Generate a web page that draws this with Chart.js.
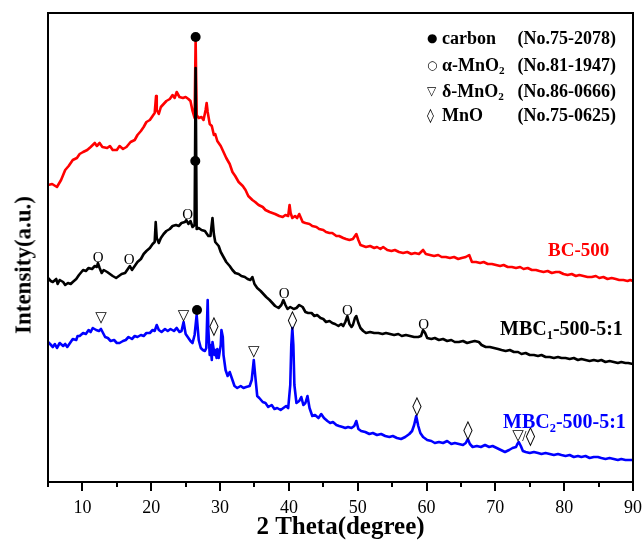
<!DOCTYPE html>
<html><head><meta charset="utf-8">
<script src="https://cdn.jsdelivr.net/npm/chart.js@4/dist/chart.umd.min.js"></script>
<style>
body{margin:0;background:#fff}
#wrap{position:relative;width:644px;height:540px;overflow:hidden}
canvas{position:absolute;left:0;top:0}
.t{position:absolute;font-family:'Liberation Serif','Times New Roman',serif;font-weight:bold;white-space:pre;line-height:1;color:#000}
.t sub{font-size:0.62em;vertical-align:-0.3em;line-height:0}
.leg{font-size:18px;left:427px;width:189px;height:18px}
.sym{position:absolute;left:0;font-family:'DejaVu Sans',sans-serif;font-weight:normal}
.txt{position:absolute;left:15px}
.no{position:absolute;right:0}
</style>
</head><body>
<div id="wrap">
<canvas id="c" width="644" height="540"></canvas>
<div class="t leg" style="top:29px"><span class="sym" style="font-size:12px;top:3px">●</span><span class="txt">carbon</span><span class="no">(No.75-2078)</span></div>
<div class="t leg" style="top:56px"><span class="sym" style="font-size:12px;top:3px">○</span><span class="txt">α-MnO<sub>2</sub></span><span class="no">(No.81-1947)</span></div>
<div class="t leg" style="top:82px"><span class="sym" style="font-size:12px;top:3px">▽</span><span class="txt">δ-MnO<sub>2</sub></span><span class="no">(No.86-0666)</span></div>
<div class="t leg" style="top:106px"><span class="sym" style="font-size:14px;top:2px">◊</span><span class="txt">MnO</span><span class="no">(No.75-0625)</span></div>
<div class="t" style="left:548px;top:240px;font-size:19px;color:#ff0000">BC-500</div>
<div class="t" style="left:500px;top:318px;font-size:20px;color:#000">MBC<sub>1</sub>-500-5:1</div>
<div class="t" style="left:503px;top:411px;font-size:20px;color:#0000ff">MBC<sub>2</sub>-500-5:1</div>
<div class="t" style="left:23px;top:265px;font-size:23px;transform:translate(-50%,-50%) rotate(-90deg)">Intensity(a.u.)</div>
</div>
<script>
// x tick labels (2θ, degree)
const xMajorTicks = [10,20,30,40,50,60,70,80,90];
const xMinorTicks = [5,15,25,35,45,55,65,75,85];

// BC-500 (red)  [2θ, intensity a.u.]
const bc500 = [[5.0,297],[5.6,298],[6.3,295],[6.9,302],[7.5,312],[8.0,316],[8.6,322],[9.2,324],[9.6,328],[10.1,330],[10.7,332],[11.2,335],[11.8,339],[12.1,336],[12.5,339],[12.9,335],[13.6,334],[14.0,336],[14.4,332],[15.0,332],[15.4,336],[15.9,333],[16.4,335],[17.0,340],[17.6,342],[18.0,347],[18.5,351],[18.9,355],[19.3,360],[19.8,362],[20.2,366],[20.5,369],[20.7,386],[20.8,372],[21.1,368],[21.4,375],[21.8,378],[22.2,381],[22.7,383],[23.1,387],[23.4,384],[23.7,390],[24.1,385],[24.6,384],[25.0,385],[25.4,383],[25.7,381],[26.0,371],[26.3,364],[26.45,442],[26.6,367],[26.9,364],[27.3,365],[27.6,362],[27.9,372],[28.05,379],[28.2,370],[28.5,358],[28.8,356],[29.1,347],[29.3,348],[29.6,341],[30.1,336],[30.5,330],[30.9,324],[31.4,318],[31.8,310],[32.2,306],[32.7,300],[33.3,296],[33.7,292],[34.1,286],[34.7,282],[35.1,280],[35.6,277],[36.2,275],[36.6,272],[37.2,270],[37.6,269],[38.0,268],[38.6,266],[39.1,265],[39.5,267],[39.9,266],[40.1,277],[40.25,269],[40.5,264],[40.9,266],[41.2,264],[41.5,268],[42.0,260],[42.4,259],[43.0,258],[43.4,256],[44.0,255],[44.4,253],[45.0,252],[45.4,250],[45.9,249],[46.3,249],[46.9,246],[47.3,246],[47.9,244],[48.3,243],[48.8,242],[49.3,243],[49.8,248],[50.1,242],[50.4,237],[50.8,236],[51.2,235],[51.8,236],[52.4,234],[52.8,235],[53.3,233],[53.7,235],[54.3,232],[54.9,231],[55.4,232],[56.0,230],[56.6,229],[57.2,230],[57.8,228],[58.3,229],[58.9,228],[59.5,232],[59.9,228],[60.5,227],[61.1,226],[61.7,227],[62.2,225],[62.8,225],[63.4,224],[64.0,225],[64.6,223],[65.1,224],[65.7,225],[66.2,227],[66.6,220],[67.2,220],[67.8,219],[68.3,220],[68.9,218],[69.5,218],[70.1,217],[70.7,216],[71.2,217],[71.8,215],[72.4,215],[73.0,214],[73.6,215],[74.1,213],[74.7,214],[75.3,212],[75.9,212],[76.4,211],[77.0,210],[77.6,211],[78.2,209],[78.8,210],[79.3,210],[79.9,208],[80.5,207],[81.1,208],[81.7,206],[82.2,207],[82.8,206],[83.4,205],[84.0,205],[84.6,206],[85.1,204],[85.7,205],[86.3,203],[86.9,204],[87.5,203],[88.0,202],[88.6,202],[89.2,201],[89.6,202],[90,201]];

// MBC1-500-5:1 (black)
const mbc1 = [[5.0,204],[5.4,201],[5.7,200],[6.2,203],[6.4,198],[6.7,202],[7.2,200],[7.5,197],[7.9,199],[8.3,198],[8.6,200],[9.1,203],[9.5,207],[10.1,212],[10.5,211],[10.9,214],[11.4,213],[11.8,216],[12.1,215],[12.25,219],[12.5,214],[12.8,209],[13.1,212],[13.6,210],[14.0,208],[14.4,206],[14.9,204],[15.3,206],[15.7,208],[16.2,209],[16.6,213],[16.9,216],[17.2,212],[17.6,216],[18.0,220],[18.5,223],[18.9,228],[19.3,231],[19.8,234],[20.2,238],[20.5,240],[20.65,260],[20.8,244],[21.1,239],[21.4,244],[21.8,248],[22.2,251],[22.7,253],[23.1,256],[23.6,257],[24.0,256],[24.4,259],[24.9,260],[25.1,262],[25.4,258],[25.7,261],[26.0,255],[26.3,257],[26.45,414],[26.6,253],[26.9,254],[27.3,252],[27.8,251],[28.0,249],[28.3,246],[28.6,246],[28.9,264],[29.1,248],[29.3,240],[29.8,236],[30.1,230],[30.5,225],[30.9,220],[31.4,216],[31.8,212],[32.2,209],[32.7,208],[33.1,206],[33.6,205],[34.0,203],[34.4,202],[34.7,205],[35.0,198],[35.4,194],[35.9,191],[36.3,188],[36.7,185],[37.2,182],[37.6,179],[38.0,176],[38.5,174],[38.9,177],[39.2,182],[39.5,177],[39.8,173],[40.2,175],[40.7,173],[41.1,174],[41.5,177],[42.0,175],[42.4,170],[42.8,169],[43.3,169],[43.7,166],[44.1,167],[44.6,164],[45.0,163],[45.4,160],[45.9,161],[46.3,159],[46.7,158],[47.2,156],[47.6,158],[47.9,156],[48.2,160],[48.5,166],[48.8,158],[49.1,155],[49.3,157],[49.6,164],[49.8,166],[50.1,159],[50.4,154],[50.8,151],[51.2,149],[51.8,150],[52.4,149],[53.0,149],[53.6,148],[54.1,149],[54.7,148],[55.3,147],[55.9,148],[56.4,146],[57.0,147],[57.6,146],[58.2,145],[58.8,145],[59.2,146],[59.5,152],[59.8,149],[60.1,144],[60.7,143],[61.2,144],[61.8,142],[62.4,143],[63.0,141],[63.6,142],[64.1,140],[64.7,140],[65.3,141],[65.9,139],[66.4,140],[67.0,141],[67.6,140],[68.0,137],[68.6,135],[69.2,135],[69.8,134],[70.4,133],[70.9,132],[71.5,131],[72.1,132],[72.7,130],[73.3,130],[73.8,128],[74.4,129],[75.0,127],[75.6,127],[76.2,126],[76.7,127],[77.3,125],[77.9,125],[78.5,124],[79.1,125],[79.6,124],[80.2,124],[80.8,123],[81.4,124],[82.0,122],[82.5,123],[83.1,122],[83.7,121],[84.3,122],[84.9,121],[85.4,122],[86.0,120],[86.6,121],[87.2,120],[87.8,119],[88.3,120],[88.9,119],[89.3,119],[90,118]];

// MBC2-500-5:1 (blue)
const mbc2 = [[5.0,140],[5.3,138],[5.7,135],[6.0,138],[6.3,134],[6.7,139],[7.2,136],[7.5,138],[7.8,135],[8.2,139],[8.6,143],[9.1,142],[9.3,146],[9.6,146],[10.1,149],[10.5,148],[10.9,152],[11.2,150],[11.5,154],[12.0,152],[12.4,151],[12.7,153],[13.0,149],[13.3,145],[13.7,144],[14.1,141],[14.6,142],[15.0,139],[15.4,139],[15.9,141],[16.3,142],[16.7,145],[17.2,143],[17.6,146],[18.0,145],[18.5,147],[18.9,146],[19.3,149],[19.8,149],[20.2,152],[20.5,151],[20.8,157],[21.1,152],[21.5,150],[22.0,153],[22.4,151],[22.8,153],[23.3,151],[23.7,154],[24.1,150],[24.4,151],[24.7,160],[25.0,148],[25.3,145],[25.7,141],[26.0,139],[26.3,147],[26.6,167],[26.9,142],[27.2,134],[27.5,132],[27.8,131],[28.0,134],[28.2,182],[28.3,152],[28.5,127],[28.6,137],[28.8,122],[28.9,140],[29.2,127],[29.3,132],[29.5,124],[29.6,133],[29.8,124],[30.1,137],[30.2,152],[30.4,145],[30.5,127],[30.8,112],[31.1,106],[31.4,110],[31.7,104],[32.1,96],[32.5,94],[33.0,96],[33.4,94],[33.8,95],[34.3,96],[34.6,102],[34.9,122],[35.1,107],[35.4,86],[35.7,84],[36.2,80],[36.6,79],[37.0,75],[37.5,77],[37.9,73],[38.3,74],[38.8,72],[39.2,74],[39.6,76],[39.9,74],[40.2,97],[40.35,137],[40.5,154],[40.65,137],[40.8,97],[41.1,79],[41.5,81],[41.8,85],[42.1,77],[42.4,79],[42.7,86],[43.0,74],[43.4,66],[43.8,67],[44.3,64],[44.7,68],[45.1,64],[45.6,61],[46.0,59],[46.4,60],[46.9,57],[47.3,56],[47.8,55],[48.2,54],[48.6,55],[49.1,54],[49.5,56],[49.8,61],[50.1,53],[50.5,51],[51.1,50],[51.7,48],[52.2,49],[52.8,47],[53.4,48],[54.0,46],[54.6,45],[55.1,46],[55.7,44],[56.3,43],[56.9,45],[57.5,48],[57.9,51],[58.2,57],[58.5,66],[58.8,56],[59.1,49],[59.5,45],[60.1,42],[60.7,41],[61.2,39],[61.8,40],[62.4,39],[63.0,41],[63.6,38],[64.1,39],[64.7,38],[65.3,37],[65.7,39],[66.0,43],[66.3,38],[66.7,35],[67.3,36],[67.9,35],[68.5,37],[69.1,35],[69.6,36],[70.2,34],[70.8,32],[71.4,30],[72.0,32],[72.5,34],[73.0,35],[73.2,38],[73.4,40],[73.7,36],[74.0,31],[74.4,30],[75.0,29],[75.6,30],[76.2,29],[76.7,28],[77.3,29],[77.9,28],[78.5,27],[79.1,28],[79.6,27],[80.2,26],[80.8,27],[81.4,25],[82.0,26],[82.5,25],[83.1,26],[83.7,24],[84.3,25],[84.9,25],[85.4,24],[86.0,23],[86.6,24],[87.2,23],[87.8,22],[88.3,23],[88.9,22],[89.3,22],[90,22]];

// phase markers [2θ, intensity]
const carbonMarks = [[26.45,445],[26.4,321],[26.65,172]];
const alphaMarks  = [[12.3,225],[16.8,223],[25.3,268],[39.3,189],[48.5,172],[59.6,158]];
const deltaMarks  = [[12.7,164],[24.7,166],[34.9,130],[73.3,46]];
const mnoMarks    = [[29.1,156],[40.5,162],[58.6,76],[66.0,52],[75.1,46]];
const slashMarks  = [[74.2,46]];

const FONT = "'Liberation Serif','Times New Roman',serif";
const toXY = a => a.map(([x,y]) => ({x, y}));

const deco = {
  id: 'deco',
  afterDatasetsDraw(chart) {
    const {ctx, scales: {x, y}} = chart;
    ctx.save();
    ctx.fillStyle = '#000';
    const drawSym = (pts, sym, font) => {
      ctx.font = font; ctx.textAlign = 'center'; ctx.textBaseline = 'alphabetic';
      const m = ctx.measureText(sym);
      const off = (m.actualBoundingBoxAscent - m.actualBoundingBoxDescent) / 2;
      pts.forEach(([a, b]) => ctx.fillText(sym, x.getPixelForValue(a), y.getPixelForValue(b) + off));
    };
    drawSym(alphaMarks, 'O', "15px 'Liberation Serif'");
    drawSym(deltaMarks, '▽', "15px 'DejaVu Sans'");
    drawSym(mnoMarks, '◊', "19px 'DejaVu Sans'");
    drawSym(slashMarks, '/', "15px 'Liberation Serif'");
    ctx.restore();
  },
  afterDraw(chart) {
    const {ctx, chartArea: ca, scales: {x}} = chart;
    ctx.save();
    ctx.strokeStyle = '#000';
    ctx.lineWidth = 2;
    ctx.strokeRect(ca.left, ca.top, ca.right - ca.left, ca.bottom - ca.top);
    ctx.beginPath();
    xMajorTicks.forEach(v => { const p = Math.round(x.getPixelForValue(v)); ctx.moveTo(p, ca.bottom); ctx.lineTo(p, ca.bottom + 9); });
    xMinorTicks.forEach(v => { const p = Math.round(x.getPixelForValue(v)); ctx.moveTo(p, ca.bottom); ctx.lineTo(p, ca.bottom + 5); });
    ctx.stroke();
    ctx.restore();
  }
};

const lineDs = (label, pts, color, order) => ({
  label, data: toXY(pts), borderColor: color, backgroundColor: color,
  borderWidth: 2.6, pointRadius: 0, tension: 0, fill: false,
  borderJoinStyle: 'round', borderCapStyle: 'round', order
});

new Chart(document.getElementById('c'), {
  type: 'line',
  data: {
    datasets: [
      { label: 'carbon', data: toXY(carbonMarks), showLine: false, pointRadius: 5,
        pointBackgroundColor: '#000', pointBorderColor: '#000', pointBorderWidth: 0, order: 0 },
      lineDs('MBC1-500-5:1', mbc1, '#000000', 1),
      lineDs('MBC2-500-5:1', mbc2, '#0000ff', 2),
      lineDs('BC-500', bc500, '#ff0000', 3)
    ]
  },
  options: {
    responsive: false, animation: false, devicePixelRatio: 1,
    layout: { padding: { top: 13, right: 11, left: 0, bottom: 0 } },
    plugins: { legend: { display: false }, tooltip: { enabled: false } },
    scales: {
      x: {
        type: 'linear', min: 5, max: 90,
        afterBuildTicks: s => { s.ticks = xMajorTicks.map(v => ({ value: v })); },
        ticks: { font: { family: FONT, size: 18 }, color: '#000', padding: 6, maxRotation: 0, autoSkip: false },
        grid: { display: true, drawOnChartArea: false, drawTicks: true, tickLength: 9, color: 'rgba(0,0,0,0)' },
        border: { display: false },
        title: { display: true, text: '2 Theta(degree)', color: '#000',
                 font: { family: FONT, size: 25, weight: 'bold' }, padding: { top: 0, bottom: -3 } },
        afterFit: s => { s.height = 58; s.paddingRight = 0; s.paddingLeft = 0; }
      },
      y: {
        min: 0, max: 469,
        ticks: { display: false },
        grid: { display: false, drawTicks: false },
        border: { display: false },
        title: { display: false },
        afterFit: s => { s.width = 48; }
      }
    }
  },
  plugins: [deco]
});
</script>
</body></html>
